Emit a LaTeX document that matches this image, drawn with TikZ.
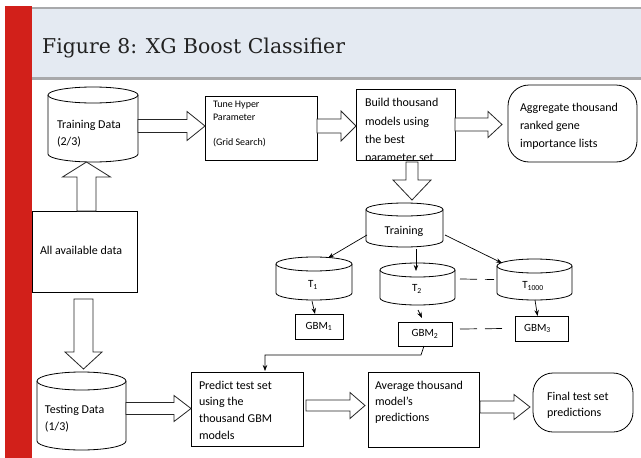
\documentclass[tikz,border=0pt]{standalone}
\usepackage{fontspec}
\setmainfont{Carlito}
\newfontfamily\titlefont{DejaVu Serif}
\usetikzlibrary{calc,arrows.meta}

\definecolor{barred}{HTML}{D2201A}
\definecolor{bandblue}{HTML}{E4EAF2}
\definecolor{bandgray}{HTML}{A8A9AB}
\definecolor{titlegray}{HTML}{222222}

\tikzset{
  frame/.style={draw=none, inner sep=0pt, outer sep=0pt, anchor=north west},
  plainbox/.style={frame, draw=black, line width=0.8pt, fill=white},
  roundbox/.style={plainbox, rounded corners=21pt},
  cylline/.style={draw=black, line width=0.8pt, fill=white},
  hollow/.style={draw=black!85, line width=0.8pt, fill=white, line join=miter},
  thinarrow/.style={-{Stealth[length=6pt,width=4.5pt]}, line width=0.7pt},
  gapline/.style={line width=0.7pt, dash pattern=on 17pt off 8pt},
  txt/.style={inner sep=0pt, outer sep=0pt, align=left, font=\fontsize{12}{17}\selectfont},
  smalltxt/.style={inner sep=0pt, outer sep=0pt, font=\fontsize{11}{13}\selectfont},
}

% cylinder drawn inside the frame of a named node; #2 = half height of the ellipses
\newcommand\drumshape[2]{%
  \draw[cylline] let \p1=(#1.north west), \p2=(#1.south east), \n1={(\x2-\x1)/2} in
    (\x1,\y1-#2pt) -- (\x1,\y2+#2pt)
    arc[start angle=180, end angle=360, x radius=\n1, y radius=#2pt]
    -- (\x2,\y1-#2pt);
  \draw[cylline] let \p1=(#1.north west), \p2=(#1.south east), \n1={(\x2-\x1)/2} in
    (\x1+\n1,\y1-#2pt) ellipse[x radius=\n1, y radius=#2pt];
}

% hollow block arrow pointing right: start, tip, shaft half, head half, head length
\newcommand\blockright[5]{%
  \draw[hollow] let \p1=#1, \p2=#2 in
    (\x1,\y1+#3pt) -- (\x2-#5pt,\y1+#3pt) -- (\x2-#5pt,\y1+#4pt) -- (\x2,\y1)
    -- (\x2-#5pt,\y1-#4pt) -- (\x2-#5pt,\y1-#3pt) -- (\x1,\y1-#3pt) -- cycle;
}
% hollow block arrow, vertical: start, tip, shaft half, head half, signed head offset
\newcommand\blockvert[5]{%
  \draw[hollow] let \p1=#1, \p2=#2 in
    (\x1-#3pt,\y1) -- (\x1-#3pt,\y2#5) -- (\x1-#4pt,\y2#5) -- (\x1,\y2)
    -- (\x1+#4pt,\y2#5) -- (\x1+#3pt,\y2#5) -- (\x1+#3pt,\y1) -- cycle;
}

\begin{document}
\begin{tikzpicture}[x=1pt,y=-1pt]
\useasboundingbox (0,0) rectangle (641,458);
\fill[white] (0,0) rectangle (641,458);

% heading band
\fill[bandblue] (32,8) rectangle (641,78);
\draw[bandgray, line width=2.5pt] (32,8) -- (641,8);
\draw[bandgray, line width=3pt] (32,78) -- (641,78);
\fill[barred] (5,6) rectangle (32,458);
\node[anchor=base west, inner sep=0pt, text=titlegray,
      font=\titlefont\fontsize{20.4}{24}\selectfont] (title) at (42,53)
      {Figure 8: XG Boost Classifier};

% frames of the shapes
\node[frame, minimum width=90pt, minimum height=75pt] (trd) at (48,87) {};
\node[frame, minimum width=89pt, minimum height=78pt] (ted) at (37,372) {};
\node[frame, minimum width=77pt, minimum height=44pt] (trn) at (366,203) {};
\node[frame, minimum width=76pt, minimum height=43pt] (t1) at (276,257) {};
\node[frame, minimum width=75pt, minimum height=42pt] (t2) at (380,263) {};
\node[frame, minimum width=75pt, minimum height=41pt] (tk) at (497,259) {};

\drumshape{trd}{8}
\drumshape{ted}{9}
\drumshape{trn}{6.5}
\drumshape{t1}{7}
\drumshape{t2}{7}
\drumshape{tk}{7}

\node[plainbox, minimum width=112pt, minimum height=64pt] (tune) at (205,96) {};
\node[plainbox, minimum width=99pt, minimum height=71pt] (build) at (356,89) {};
\node[roundbox, minimum width=129pt, minimum height=77pt] (agg) at (508,85) {};
\node[plainbox, minimum width=105pt, minimum height=81pt] (all) at (32,211) {};
\node[plainbox, minimum width=48pt, minimum height=25pt] (g1) at (295,314) {};
\node[plainbox, minimum width=54pt, minimum height=24pt] (g2) at (398,322) {};
\node[plainbox, minimum width=53pt, minimum height=25pt] (g3) at (515,316) {};
\node[plainbox, minimum width=112pt, minimum height=74pt] (pred) at (191,372) {};
\node[plainbox, minimum width=111pt, minimum height=75pt] (avg) at (368,372) {};
\node[roundbox, rounded corners=20pt, minimum width=100pt, minimum height=59pt] (fin) at (533,373) {};

% texts
\node[txt, anchor=west] (trdtxt) at (57,134) {Training Data\\(2/3)};
\node[txt, anchor=west, font=\fontsize{10}{13}\selectfont] (tunetxt) at (213,124)
  {Tune Hyper\\Parameter\\[12pt](Grid Search)};
\begin{scope}
  \clip (build.north west) rectangle (build.south east);
  \node[txt, anchor=west, font=\fontsize{12}{18.3}\selectfont] (buildtxt) at (365,131)
    {Build thousand\\models using\\the best\\parameter set};
\end{scope}
\draw[line width=0.8pt] (build.south west) -- (build.south east);
\node[txt, anchor=west, font=\fontsize{12}{18}\selectfont] (aggtxt) at (520,126)
  {Aggregate thousand\\ranked gene\\importance lists};
\node[txt, anchor=west] (alltxt) at (40,250) {All available data};
\node[txt, anchor=west] (tedtxt) at (45,419) {Testing Data\\(1/3)};
\node[txt, anchor=west, font=\fontsize{12}{16.7}\selectfont] (predtxt) at (199,410)
  {Predict test set\\using the\\thousand GBM\\models};
\node[txt, anchor=west, font=\fontsize{12}{16}\selectfont] (avgtxt) at (375,402)
  {Average thousand\\model’s\\predictions};
\node[txt, anchor=west, font=\fontsize{12}{16}\selectfont] (fintxt) at (547,405)
  {Final test set\\predictions};
\node[smalltxt, font=\fontsize{12}{14}\selectfont] (trntxt) at (404,231) {Training};
\node[smalltxt] (t1txt) at (313,285) {T\textsubscript{1}};
\node[smalltxt] (t2txt) at (417,289) {T\textsubscript{2}};
\node[smalltxt] (tktxt) at (533,286) {T\textsubscript{1000}};
\node[smalltxt] (g1txt) at (g1.center) {GBM\textsubscript{1}};
\node[smalltxt] (g2txt) at (g2.center) {GBM\textsubscript{2}};
\node[smalltxt] (g3txt) at ($(g3.center)+(-4,0)$) {GBM\textsubscript{3}};

% block arrows
\blockright{($(trd.east)+(0,1.5)$)}{(tune.west)}{6.5}{14.5}{18}
\blockright{($(tune.east)+(0,-2)$)}{(build.west)}{7}{15}{15}
\blockright{(build.east)}{($(agg.west)+(-6,0)$)}{6.5}{13}{14}
\blockvert{($(build.south)+(6.5,2)$)}{($(trn.north)+(8,-3)$)}{6}{19}{+20pt}
\blockvert{($(all.north)+(2,0)$)}{(trd.south)}{9.5}{24}{-15pt}
\blockvert{($(all.south)+(-1,7)$)}{($(ted.north)+(0,-3)$)}{9.5}{18.5}{+17pt}
\blockright{($(ted.east)+(0,-2.5)$)}{(pred.west)}{6}{13}{17}
\blockright{($(pred.east)+(3,-3.5)$)}{($(avg.west)+(-3,0)$)}{5.5}{13}{15}
\blockright{($(avg.east)+(1,-2.5)$)}{($(fin.west)+(-3,0)$)}{6}{12.5}{16}

% thin connectors
\draw[thinarrow] ($(trn.south west)+(1,-12)$) -- ($(t1.north)+(14,1)$);
\draw[thinarrow] ($(trn.south)+(11.5,2)$) -- ($(t2.north)+(-1.5,8)$);
\draw[thinarrow] ($(trn.south east)+(2,-12)$) -- ($(tk.north west)+(5,4)$);
\draw[thinarrow] ($(t1.south)+(-2,1)$) -- ($(g1.north)+(-4,0)$);
\draw[thinarrow] ($(t2.south)+(0.5,5)$) -- ($(g2.north)+(-3,-4)$);
\draw[thinarrow] ($(tk.south)+(0.5,0)$) -- ($(g3.north)+(-4,0)$);
\draw[gapline] ($(t2.east)+(5,-5)$) -- ($(tk.west)+(-3,0)$);
\draw[gapline] ($(g2.east)+(8,-5)$) -- ($(g3.west)+(-10,0)$);
\draw[thinarrow] ($(g2.south)+(-1,0)$) -- ++(-3,9) -| ($(pred.north)+(18,-1)$);
\end{tikzpicture}
\end{document}
